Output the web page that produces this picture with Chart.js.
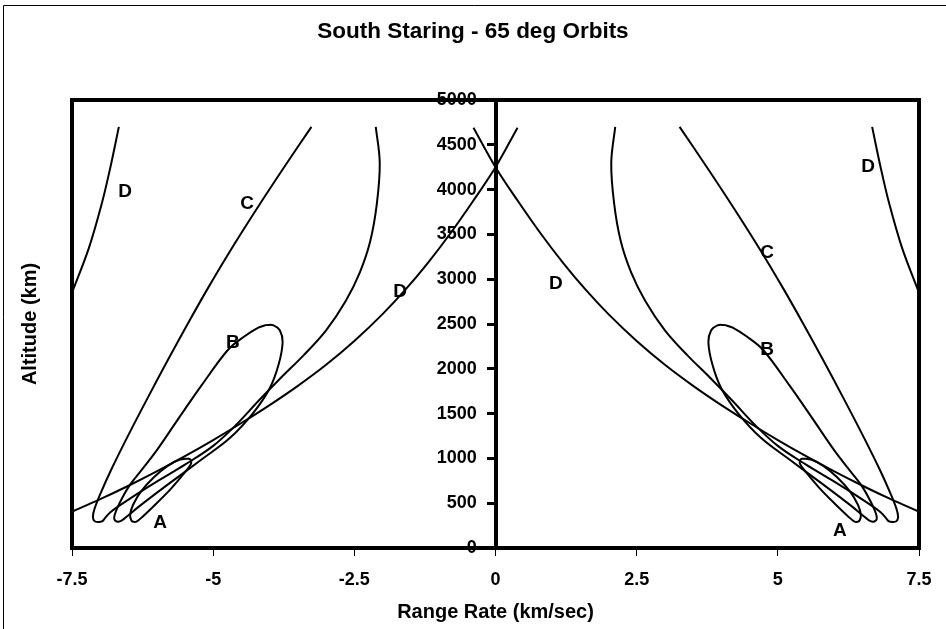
<!DOCTYPE html>
<html>
<head>
<meta charset="utf-8">
<script src="https://cdn.jsdelivr.net/npm/chart.js@4.4.0/dist/chart.umd.min.js"></script>
<style>
  html, body { margin: 0; padding: 0; background: #fff; }
  .chart-container { position: relative; width: 946px; height: 629px; }
</style>
</head>
<body>
<div class="chart-container"><canvas id="orbitChart" width="946" height="629"></canvas></div>
<script>
// axis ticks
const xTicks = [-7.5, -5, -2.5, 0, 2.5, 5, 7.5];
const yTicks = [0, 500, 1000, 1500, 2000, 2500, 3000, 3500, 4000, 4500, 5000];

// curves, [range rate (km/sec), altitude (km)]
// right half (positive range rate)
const orbitA_R = [[5.43,1000],[5.60,985],[5.80,920],[6.05,790],[6.28,630],[6.42,480],[6.47,370],[6.45,310],[6.41,292],[6.35,298],[6.25,350],[6.00,500],[5.75,660],[5.52,830],[5.40,930],[5.39,975],[5.43,1000]];
const orbitB_R = [[4.05,2490],[4.20,2460],[4.45,2360],[4.74,2210],[5.20,1820],[5.63,1430],[6.00,1090],[6.28,860],[6.50,680],[6.65,510],[6.74,380],[6.75,320],[6.71,296],[6.64,300],[6.55,340],[6.30,470],[5.80,710],[5.20,990],[4.70,1230],[4.30,1500],[4.00,1780],[3.84,2050],[3.77,2300],[3.82,2430],[3.93,2485],[4.05,2490]];
const orbitC_R = [[3.26,4700],[3.75,4244],[4.25,3764],[4.74,3274],[5.10,2892],[5.45,2503],[5.80,2100],[6.15,1687],[6.50,1263],[6.80,882],[7.00,602],[7.10,440],[7.13,350],[7.10,300],[7.04,290],[6.97,296],[6.92,330],[6.82,400],[6.50,540],[6.00,740],[5.50,930],[5.00,1140],[4.60,1370],[4.20,1640],[3.80,1900],[3.40,2150],[3.00,2430],[2.65,2760],[2.40,3080],[2.22,3420],[2.10,3850],[2.05,4300],[2.12,4700]];
const orbitD_R = [[-0.39,4690],[0.00,4250],[0.40,3870],[0.80,3510],[1.20,3180],[1.60,2880],[2.00,2610],[2.50,2310],[3.00,2045],[3.50,1810],[4.00,1595],[4.50,1395],[5.00,1205],[5.50,1025],[6.00,855],[6.50,695],[7.00,545],[7.50,405]];
const orbitD2_R = [[6.67,4700],[6.82,4250],[6.97,3850],[7.20,3350],[7.50,2850]];

// left half (negative range rate)
const orbitA_L = [[-5.43,1000],[-5.60,985],[-5.80,920],[-6.05,790],[-6.28,630],[-6.42,480],[-6.47,370],[-6.45,310],[-6.41,292],[-6.35,298],[-6.25,350],[-6.00,500],[-5.75,660],[-5.52,830],[-5.40,930],[-5.39,975],[-5.43,1000]];
const orbitB_L = [[-4.05,2490],[-4.20,2460],[-4.45,2360],[-4.74,2210],[-5.20,1820],[-5.63,1430],[-6.00,1090],[-6.28,860],[-6.50,680],[-6.65,510],[-6.74,380],[-6.75,320],[-6.71,296],[-6.64,300],[-6.55,340],[-6.30,470],[-5.80,710],[-5.20,990],[-4.70,1230],[-4.30,1500],[-4.00,1780],[-3.84,2050],[-3.77,2300],[-3.82,2430],[-3.93,2485],[-4.05,2490]];
const orbitC_L = [[-3.26,4700],[-3.75,4244],[-4.25,3764],[-4.74,3274],[-5.10,2892],[-5.45,2503],[-5.80,2100],[-6.15,1687],[-6.50,1263],[-6.80,882],[-7.00,602],[-7.10,440],[-7.13,350],[-7.10,300],[-7.04,290],[-6.97,296],[-6.92,330],[-6.82,400],[-6.50,540],[-6.00,740],[-5.50,930],[-5.00,1140],[-4.60,1370],[-4.20,1640],[-3.80,1900],[-3.40,2150],[-3.00,2430],[-2.65,2760],[-2.40,3080],[-2.22,3420],[-2.10,3850],[-2.05,4300],[-2.12,4700]];
const orbitD_L = [[0.39,4690],[0.00,4250],[-0.40,3870],[-0.80,3510],[-1.20,3180],[-1.60,2880],[-2.00,2610],[-2.50,2310],[-3.00,2045],[-3.50,1810],[-4.00,1595],[-4.50,1395],[-5.00,1205],[-5.50,1025],[-6.00,855],[-6.50,695],[-7.00,545],[-7.50,405]];
const orbitD2_L = [[-6.67,4700],[-6.82,4250],[-6.97,3850],[-7.20,3350],[-7.50,2850]];

// curve labels
const labelText = ['D', 'C', 'D', 'B', 'A', 'D', 'C', 'D', 'B', 'A'];
const labelX = [-6.56, -4.40, -1.69, -4.65, -5.94, 6.60, 4.81, 1.07, 4.81, 6.10];
const labelY = [3973, 3839, 2857, 2288, 279, 4252, 3292, 2946, 2210, 190];

const FONT = '"Liberation Sans", Arial, sans-serif';

const curves = [orbitA_L, orbitB_L, orbitC_L, orbitD_L, orbitD2_L, orbitA_R, orbitB_R, orbitC_R, orbitD_R, orbitD2_R];

const datasets = curves.map(function(pts) {
    return {
        data: pts.map(p => ({ x: p[0], y: p[1] })),
        showLine: true,
        borderColor: '#000',
        borderWidth: 2,
        pointRadius: 0,
        tension: 0.35,
        fill: false
    };
});

const framePlugin = {
    id: 'frame',
    beforeDraw(chart) {
        const ctx = chart.ctx;
        ctx.save();
        ctx.fillStyle = '#fff';
        ctx.fillRect(0, 0, chart.width, chart.height);
        ctx.strokeStyle = '#000';
        ctx.lineWidth = 1;
        ctx.beginPath();
        ctx.moveTo(3.5, chart.height);
        ctx.lineTo(3.5, 5.5);
        ctx.lineTo(chart.width, 5.5);
        ctx.stroke();
        ctx.restore();
    },
    afterDatasetsDraw(chart) {
        const ctx = chart.ctx;
        const a = chart.chartArea;
        const xs = chart.scales.x, ys = chart.scales.y;
        ctx.save();
        ctx.fillStyle = '#000';
        ctx.font = 'bold 19px ' + FONT;
        ctx.textAlign = 'center';
        ctx.textBaseline = 'middle';
        labelText.forEach(function(t, i) {
            ctx.fillText(t, xs.getPixelForValue(labelX[i]), ys.getPixelForValue(labelY[i]));
        });
        ctx.strokeStyle = '#000';
        ctx.lineWidth = 4;
        ctx.strokeRect(a.left, a.top, a.right - a.left, a.bottom - a.top);
        ctx.restore();
    }
};

new Chart(document.getElementById('orbitChart'), {
    type: 'scatter',
    data: { datasets: datasets },
    options: {
        responsive: false,
        animation: false,
        devicePixelRatio: 1,
        layout: { padding: 0 },
        plugins: {
            legend: { display: false },
            tooltip: { enabled: false },
            title: {
                display: true,
                text: 'South Staring - 65 deg Orbits',
                color: '#000',
                font: { family: FONT, size: 22.5, weight: 'bold' },
                padding: { top: 18, bottom: 55 }
            }
        },
        scales: {
            x: {
                type: 'linear',
                position: 'bottom',
                min: -7.5,
                max: 7.5,
                afterBuildTicks: s => { s.ticks = xTicks.map(v => ({ value: v })); },
                afterFit: s => { s.height = 81; },
                ticks: {
                    color: '#000',
                    font: { family: FONT, size: 18, weight: 'bold' },
                    padding: 13,
                    maxRotation: 0,
                    callback: v => String(v)
                },
                grid: { drawOnChartArea: false, drawTicks: true, tickLength: 8, color: '#000', lineWidth: 1 },
                border: { display: true, color: '#000', width: 4 },
                title: {
                    display: true,
                    text: 'Range Rate (km/sec)',
                    color: '#000',
                    font: { family: FONT, size: 20, weight: 'bold' },
                    padding: { top: 0, bottom: 5 }
                }
            },
            // axis line and tick marks at zero range rate
            y: {
                type: 'linear',
                position: { x: 0 },
                min: 0,
                max: 5000,
                afterBuildTicks: s => { s.ticks = yTicks.map(v => ({ value: v })); },
                ticks: { display: false },
                grid: { drawOnChartArea: false, drawTicks: true, tickLength: 7, color: '#000', lineWidth: 3 },
                border: { display: true, color: '#000', width: 4 }
            },
            // tick labels, right-aligned just left of the axis
            yl: {
                type: 'linear',
                position: { x: -0.33 },
                min: 0,
                max: 5000,
                afterBuildTicks: s => { s.ticks = yTicks.map(v => ({ value: v })); },
                ticks: {
                    color: '#000',
                    font: { family: FONT, size: 18, weight: 'bold' },
                    callback: v => String(v)
                },
                grid: { display: false },
                border: { display: false }
            },
            yt: {
                type: 'linear',
                position: 'left',
                afterFit: s => { s.width = 72; },
                ticks: { display: false },
                grid: { display: false },
                border: { display: false },
                title: {
                    display: true,
                    text: 'Altitude (km)',
                    color: '#000',
                    font: { family: FONT, size: 20, weight: 'bold' },
                    padding: { top: 18, bottom: 0 }
                }
            },
            // empty right margin
            yr: {
                type: 'linear',
                position: 'right',
                afterFit: s => { s.width = 27; },
                ticks: { display: false },
                grid: { display: false },
                border: { display: false }
            }
        }
    },
    plugins: [framePlugin]
});
</script>
</body>
</html>
